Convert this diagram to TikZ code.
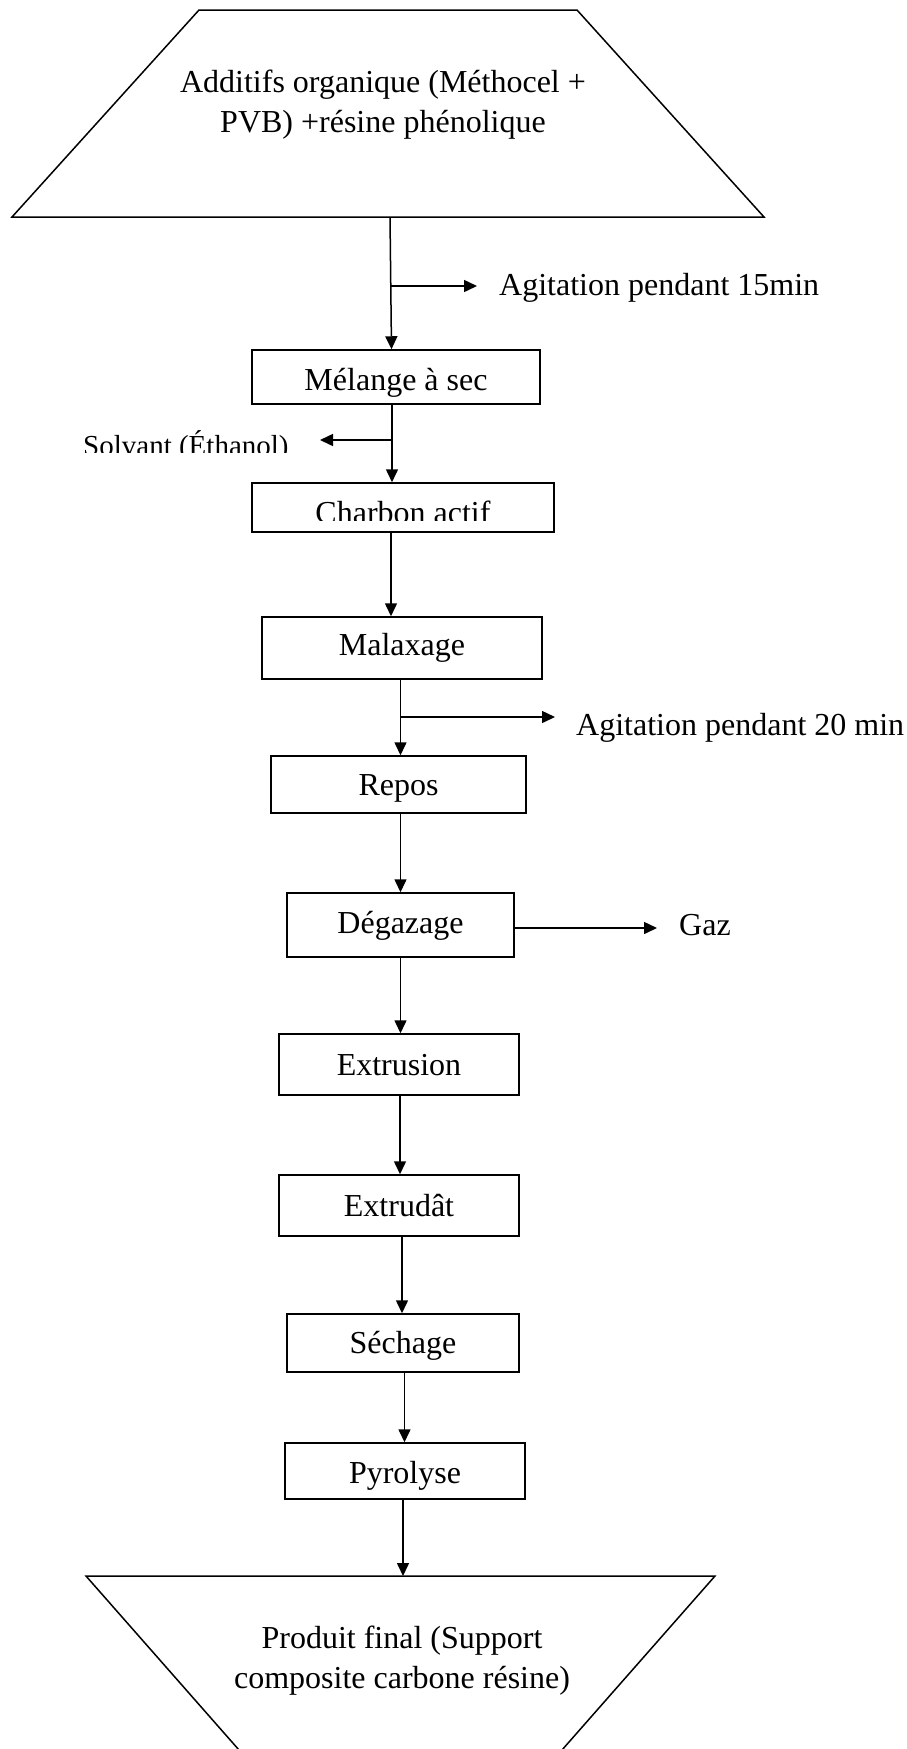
\documentclass[tikz,border=0pt]{standalone}
\usepackage{fontspec}
\setmainfont{Liberation Serif}
\usetikzlibrary{arrows.meta}
\tikzset{
  bigfont/.style={font=\fontsize{32}{39.5}\selectfont},
  stepbox/.style={draw, line width=1.5pt, inner sep=0pt, bigfont, text depth=7pt},
  arr/.style={line width=1.5pt, -{Triangle[length=13pt,width=12pt]}},
  plain/.style={line width=1.5pt, line join=miter},
  lbl/.style={inner sep=0pt, anchor=base west, bigfont},
}
\begin{document}
\begin{tikzpicture}[x=1pt,y=-1pt]
\path[use as bounding box] (0,0) rectangle (906,1749);
\clip (0,0) rectangle (906,1749);

% top trapezoid
\draw[plain] (199,10) -- (577,10) -- (764,217) -- (12,217) -- cycle;
\node[inner sep=0pt, align=center, bigfont] (toptext) at (383,104.5)
  {Additifs organique (Méthocel +\\PVB) +résine phénolique};
\coordinate (topbase) at (390,217);

% column coordinates
\coordinate (c1) at (391.5,0);
\coordinate (c2) at (392,0);
\coordinate (c3) at (391,0);
\coordinate (c4) at (400.5,0);
\coordinate (c5) at (400,0);
\coordinate (c6) at (402,0);
\coordinate (c7) at (404.5,0);
\coordinate (c8) at (403,0);

% boxes
\node[stepbox, minimum width=288pt, minimum height=54pt, text height=33pt] (melange) at (396,377) {Mélange à sec};
\node[stepbox, minimum width=302pt, minimum height=49pt] (charbon) at (403,507.5) {};
\node[stepbox, minimum width=280pt, minimum height=62pt, text height=21pt] (malaxage) at (402,648) {Malaxage};
\node[stepbox, minimum width=255pt, minimum height=57pt, text height=28pt] (repos) at (398.5,784.5) {Repos};
\node[stepbox, minimum width=227pt, minimum height=64pt, text height=23pt] (degazage) at (400.5,925) {Dégazage};
\node[stepbox, minimum width=240pt, minimum height=61pt, text height=28pt] (extrusion) at (399,1064.5) {Extrusion};
\node[stepbox, minimum width=240pt, minimum height=61pt, text height=28pt] (extrudat) at (399,1205.5) {Extrudât};
\node[stepbox, minimum width=232pt, minimum height=58pt, text height=27pt] (sechage) at (403,1343) {Séchage};
\node[stepbox, minimum width=240pt, minimum height=56pt, text height=31pt] (pyrolyse) at (405,1471) {Pyrolyse};

% clipped text of Charbon actif
\begin{scope}
  \clip (252,483) rectangle (554,520);
  \node[inner sep=0pt, anchor=base, bigfont] (charbontext) at (403,523) {Charbon actif};
\end{scope}

% bottom trapezoid
\draw[plain] (283,1800) -- (86,1576) -- (715,1576) -- (518,1800);
\coordinate (botbase) at (403,1576);
\node[inner sep=0pt, align=center, bigfont] (bottext) at (402,1660.5)
  {Produit final (Support\\composite carbone résine)};

% main connectors
\draw[arr] (topbase) -- (melange.north -| c1);
\draw[arr] (melange.south -| c2) -- (charbon.north -| c2);
\draw[arr] (charbon.south -| c3) -- (malaxage.north -| c3);
\draw[arr] (malaxage.south -| c4) -- (repos.north -| c4);
\draw[arr] (repos.south -| c4) -- (degazage.north -| c4);
\draw[arr] (degazage.south -| c4) -- (extrusion.north -| c4);
\draw[arr] (extrusion.south -| c5) -- (extrudat.north -| c5);
\draw[arr] (extrudat.south -| c6) -- (sechage.north -| c6);
\draw[arr] (sechage.south -| c7) -- (pyrolyse.north -| c7);
\draw[arr] (pyrolyse.south -| c8) -- (botbase);

% side branches
\coordinate (b1) at (391,286);
\coordinate (e1) at (477,286);
\draw[arr] (b1) -- (e1);
\node[lbl] (agit1) at (499,295) {Agitation pendant 15min};

\coordinate (b2) at (392,440);
\coordinate (e2) at (320,440);
\draw[arr] (b2) -- (e2);
\begin{scope}
  \clip (60,400) rectangle (300,452);
  \node[lbl, font=\fontsize{29}{35}\selectfont] (solvant) at (83,455) {Solvant (Éthanol)};
\end{scope}

\coordinate (b3) at (400.5,717);
\coordinate (e3) at (555,717);
\draw[arr] (b3) -- (e3);
\node[lbl] (agit2) at (576,735) {Agitation pendant 20 min};

\coordinate (e4) at (657,928);
\draw[arr] (degazage.east |- e4) -- (e4);
\node[lbl] (gaz) at (679,935) {Gaz};

\end{tikzpicture}
\end{document}
